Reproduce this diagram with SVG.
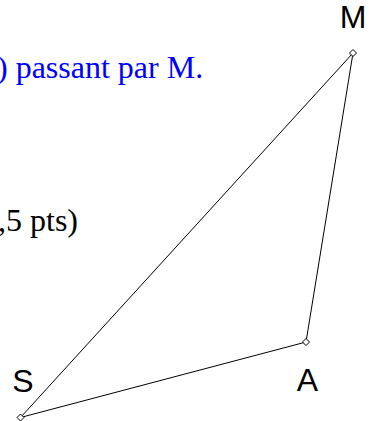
<svg xmlns="http://www.w3.org/2000/svg" width="372" height="421" viewBox="0 0 372 421">
<style>
.lbl{font-family:"Liberation Sans",Arial,sans-serif;font-size:32px;fill:#000}
.txt{font-family:"Liberation Serif","Times New Roman",serif;font-size:32px}
.edge{stroke:#000;stroke-width:1;fill:none}
.pt{fill:#fff;stroke:#000;stroke-width:1}
</style>
<rect width="372" height="421" fill="#fff"/>
<text class="txt" x="-3" y="78" fill="#0000ff">) passant par M.</text>
<text class="txt" x="-2" y="231" fill="#000">,5 pts)</text>
<g id="connectors">
<line class="edge" x1="353" y1="53" x2="306" y2="342"/>
<line class="edge" x1="306" y1="342" x2="20.5" y2="417.5"/>
<line class="edge" x1="20.5" y1="417.5" x2="353" y2="53"/>
</g>
<g id="M"><path class="pt" d="M353 49.5 L356.5 53 L353 56.5 L349.5 53 Z"/><text class="lbl" x="353" y="28" text-anchor="middle">M</text></g>
<g id="A"><path class="pt" d="M306 338.5 L309.5 342 L306 345.5 L302.5 342 Z"/><text class="lbl" x="307.5" y="391" text-anchor="middle">A</text></g>
<g id="S"><path class="pt" d="M20.5 414 L24 417.5 L20.5 421 L17 417.5 Z"/><text class="lbl" x="23" y="392" text-anchor="middle">S</text></g>
</svg>
